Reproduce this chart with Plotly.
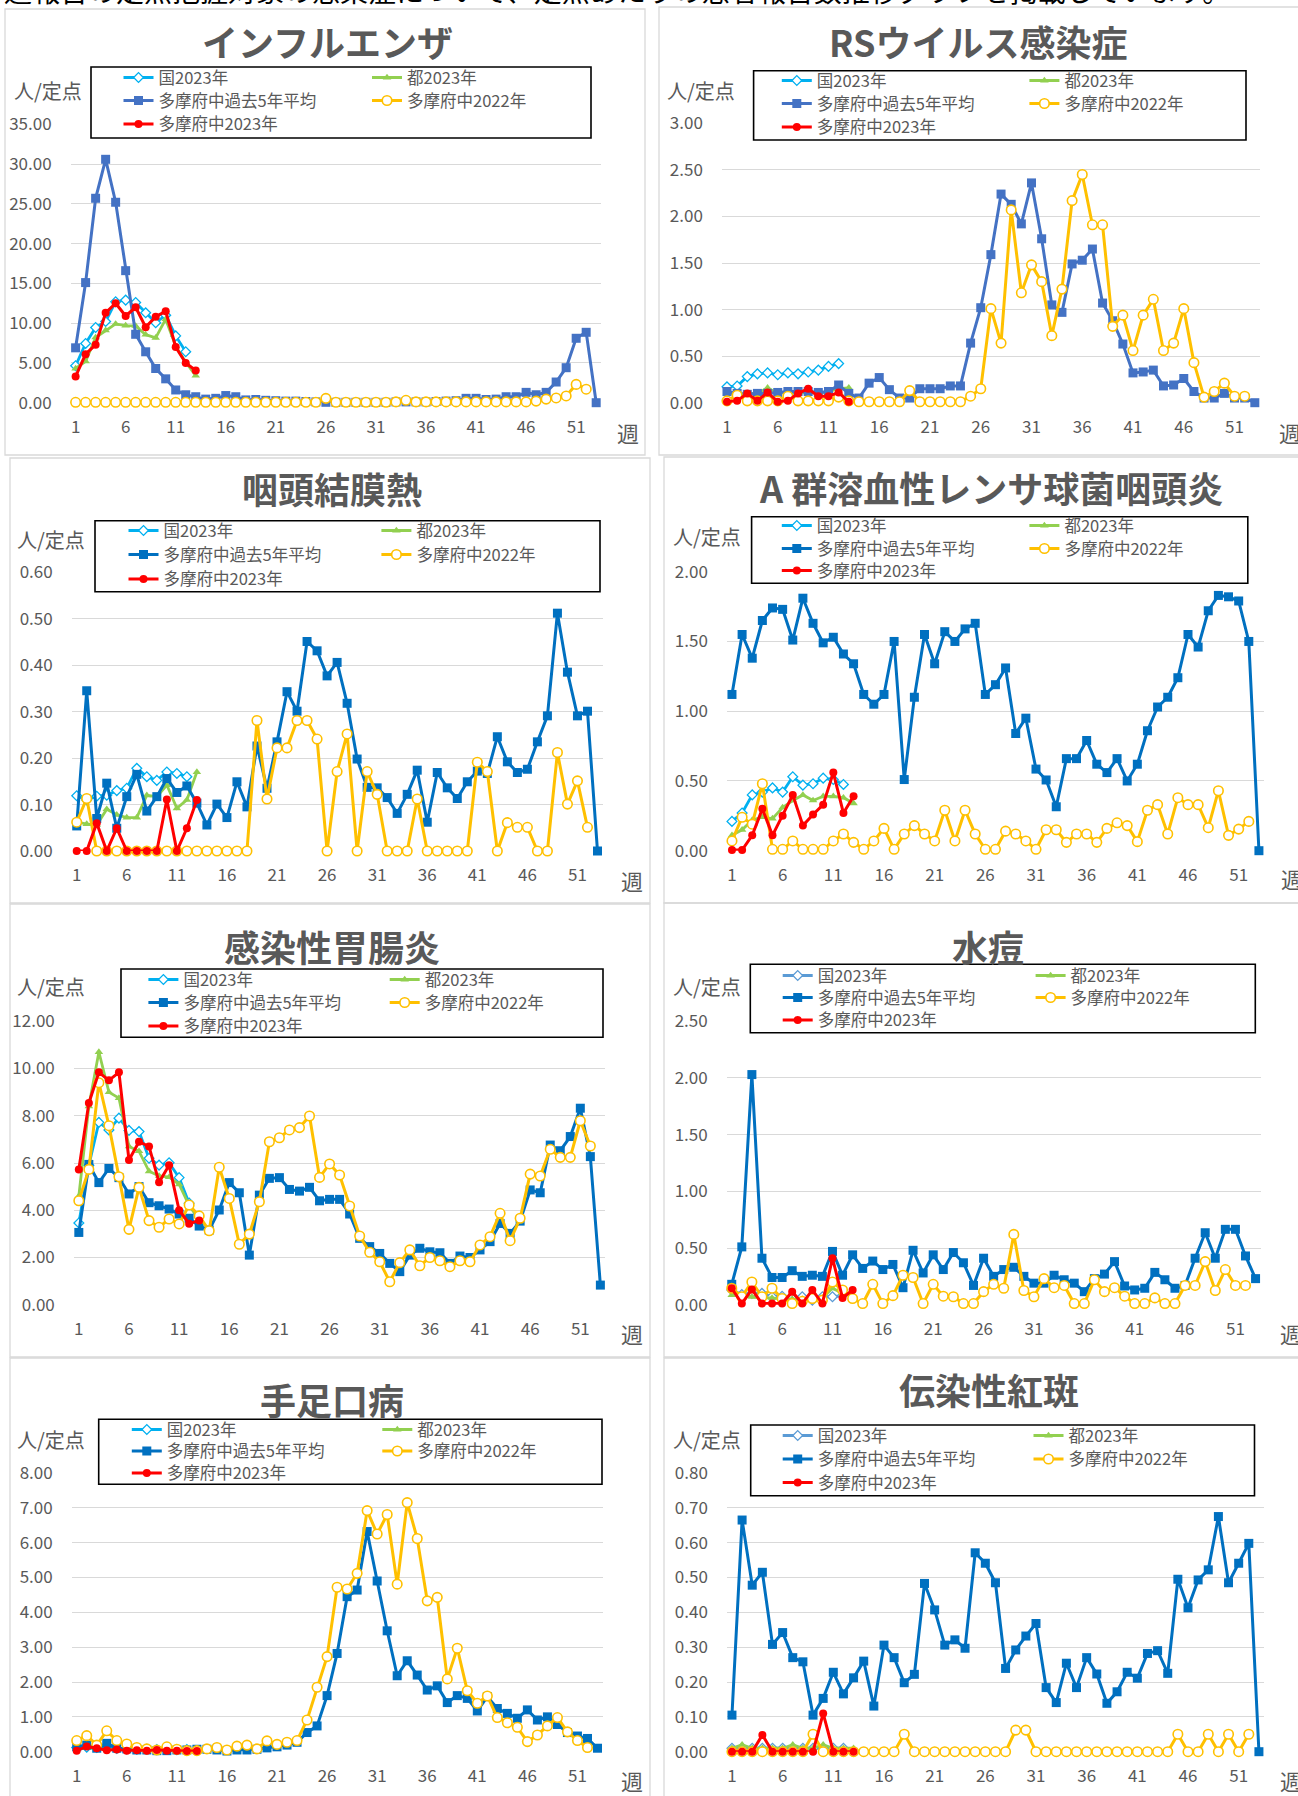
import plotly.graph_objects as go

# ------------------------------------------------------------------ data
weeks = list(range(1, 54))
week_ticks = [1, 6, 11, 16, 21, 26, 31, 36, 41, 46, 51]
series_names = ["国2023年", "都2023年", "多摩府中過去5年平均", "多摩府中2022年", "多摩府中2023年"]
page_note = "週報告の定点把握対象の感染症について、定点あたりの患者報告数推移グラフを掲載しています。"

# インフルエンザ
flu_kuni = [4.65, 7.45, 9.45, 10.2, 12.7, 12.9, 12.6, 11.3, 10.05, 11.0, 8.4, 6.4]
flu_to = [4.3, 5.2, 8.2, 9.1, 9.9, 9.7, 9.65, 8.55, 8.15, 10.5, 7.1, 5.1, 3.4]
flu_avg = [6.9, 15.1, 25.7, 30.6, 25.2, 16.6, 8.6, 6.4, 4.3, 3.0, 1.6, 1.0, 0.75, 0.45, 0.55,
           0.9, 0.75, 0.35, 0.4, 0.3, 0.25, 0.2, 0.2, 0.15, 0.1, 0.05, 0.05, 0.05, 0.05, 0.05,
           0.05, 0.05, 0.1, 0.1, 0.1, 0.1, 0.15, 0.2, 0.25, 0.55, 0.55, 0.4, 0.45, 0.75, 0.75,
           1.3, 1.0, 1.3, 2.6, 4.4, 8.1, 8.85, 0.0]
flu_2022 = [0.05, 0.05, 0.05, 0.05, 0.05, 0.05, 0.05, 0.05, 0.05, 0.05, 0.05, 0.05, 0.05,
            0.05, 0.05, 0.05, 0.05, 0.05, 0.05, 0.05, 0.05, 0.05, 0.05, 0.05, 0.05, 0.55,
            0.05, 0.05, 0.05, 0.05, 0.05, 0.05, 0.1, 0.3, 0.1, 0.1, 0.1, 0.1, 0.1, 0.1,
            0.1, 0.1, 0.1, 0.1, 0.1, 0.1, 0.2, 0.45, 0.6, 0.85, 2.3, 1.7]
flu_2023 = [3.3, 6.1, 7.3, 11.3, 12.5, 10.9, 12.0, 9.5, 10.8, 11.5, 7.0, 5.0, 4.05]

# RSウイルス感染症
rs_kuni = [0.17, 0.18, 0.28, 0.31, 0.32, 0.30, 0.32, 0.31, 0.33, 0.35, 0.39, 0.42]
rs_to = [0.10, 0.09, 0.10, 0.10, 0.16, 0.10, 0.11, 0.10, 0.11, 0.10, 0.12, 0.15, 0.16]
rs_avg = [0.12, 0.10, 0.09, 0.10, 0.10, 0.11, 0.12, 0.12, 0.12, 0.11, 0.12, 0.19, 0.10, 0.05,
          0.21, 0.27, 0.14, 0.05, 0.05, 0.15, 0.15, 0.15, 0.18, 0.18, 0.64, 1.02, 1.59, 2.24,
          2.13, 1.92, 2.36, 1.76, 1.05, 0.97, 1.49, 1.53, 1.65, 1.07, 0.88, 0.63, 0.32, 0.33,
          0.35, 0.18, 0.19, 0.26, 0.12, 0.05, 0.05, 0.10, 0.05, 0.05, 0.0]
rs_2022 = [0.02, 0.08, 0.02, 0.02, 0.02, 0.02, 0.07, 0.02, 0.02, 0.02, 0.02, 0.06, 0.02, 0.01,
           0.01, 0.01, 0.01, 0.01, 0.13, 0.01, 0.01, 0.01, 0.01, 0.01, 0.07, 0.15, 1.01, 0.64,
           2.07, 1.18, 1.48, 1.30, 0.72, 1.22, 2.17, 2.45, 1.91, 1.91, 0.82, 0.94, 0.56, 0.94,
           1.11, 0.56, 0.64, 1.01, 0.43, 0.06, 0.12, 0.21, 0.07, 0.07]
rs_2023 = [0.01, 0.02, 0.10, 0.02, 0.11, 0.01, 0.02, 0.10, 0.15, 0.07, 0.07, 0.11, 0.01]

# 咽頭結膜熱
pcf_kuni = [0.119, 0.11, 0.118, 0.12, 0.13, 0.135, 0.178, 0.16, 0.152, 0.17, 0.167, 0.16]
pcf_to = [0.063, 0.058, 0.056, 0.09, 0.078, 0.072, 0.072, 0.12, 0.117, 0.142, 0.092, 0.11, 0.17]
pcf_avg = [0.054, 0.345, 0.07, 0.146, 0.049, 0.117, 0.165, 0.086, 0.117, 0.156, 0.126, 0.14,
           0.103, 0.056, 0.101, 0.072, 0.149, 0.095, 0.226, 0.135, 0.235, 0.343, 0.301, 0.451,
           0.431, 0.377, 0.406, 0.318, 0.198, 0.137, 0.136, 0.115, 0.081, 0.122, 0.174, 0.062,
           0.169, 0.136, 0.113, 0.149, 0.172, 0.167, 0.246, 0.192, 0.169, 0.176, 0.235, 0.291,
           0.512, 0.385, 0.291, 0.301, 0.0]
pcf_2022 = [0.062, 0.113, 0.0, 0.0, 0.0, 0.0, 0.0, 0.0, 0.0, 0.0, 0.0, 0.0, 0.0, 0.0, 0.0, 0.0,
            0.0, 0.0, 0.281, 0.112, 0.222, 0.222, 0.281, 0.281, 0.241, 0.0, 0.171, 0.252, 0.0,
            0.171, 0.122, 0.0, 0.0, 0.0, 0.112, 0.0, 0.0, 0.0, 0.0, 0.0, 0.191, 0.171, 0.0,
            0.061, 0.051, 0.051, 0.0, 0.0, 0.212, 0.101, 0.151, 0.051]
pcf_2023 = [0.0, 0.0, 0.06, 0.0, 0.049, 0.0, 0.0, 0.0, 0.0, 0.111, 0.0, 0.049, 0.11]

# A群溶血性レンサ球菌咽頭炎
gas_kuni = [0.21, 0.27, 0.40, 0.42, 0.45, 0.42, 0.53, 0.47, 0.48, 0.52, 0.51, 0.475]
gas_to = [0.11, 0.15, 0.22, 0.24, 0.23, 0.31, 0.36, 0.40, 0.36, 0.39, 0.39, 0.38, 0.34]
gas_avg = [1.12, 1.55, 1.38, 1.65, 1.74, 1.73, 1.51, 1.81, 1.63, 1.49, 1.53, 1.41, 1.34, 1.12,
           1.05, 1.12, 1.50, 0.51, 1.10, 1.55, 1.34, 1.57, 1.50, 1.59, 1.63, 1.12, 1.19, 1.31,
           0.84, 0.95, 0.585, 0.507, 0.315, 0.66, 0.66, 0.79, 0.62, 0.56, 0.66, 0.50, 0.62,
           0.86, 1.03, 1.10, 1.24, 1.55, 1.46, 1.72, 1.83, 1.82, 1.79, 1.50, 0.0]
gas_2022 = [0.07, 0.24, 0.19, 0.48, 0.01, 0.01, 0.07, 0.01, 0.01, 0.01, 0.07, 0.12, 0.06, 0.01,
            0.07, 0.16, 0.01, 0.12, 0.18, 0.12, 0.07, 0.29, 0.07, 0.29, 0.12, 0.01, 0.01, 0.14,
            0.12, 0.07, 0.01, 0.15, 0.15, 0.06, 0.12, 0.12, 0.06, 0.16, 0.20, 0.18, 0.065, 0.29,
            0.33, 0.12, 0.38, 0.33, 0.33, 0.165, 0.43, 0.11, 0.155, 0.21]
gas_2023 = [0.005, 0.005, 0.11, 0.30, 0.11, 0.25, 0.40, 0.18, 0.26, 0.33, 0.56, 0.27, 0.39]

# 感染性胃腸炎
ge_kuni = [3.46, 5.9, 7.72, 7.40, 7.9, 7.38, 7.33, 6.2, 5.91, 6.01, 5.38, 4.3]
ge_to = [4.6, 8.4, 10.7, 9.0, 8.75, 6.7, 6.5, 5.65, 5.45, 5.4, 5.1, 4.2, 3.6]
ge_avg = [3.06, 5.94, 5.17, 5.77, 5.38, 4.69, 5.0, 4.32, 4.19, 4.05, 3.84, 3.66, 3.33, 3.16,
          4.01, 5.17, 4.74, 2.10, 4.64, 5.35, 5.38, 4.88, 4.81, 4.97, 4.40, 4.46, 4.46, 3.84,
          2.81, 2.46, 2.17, 1.75, 1.40, 2.10, 2.39, 2.24, 2.20, 1.75, 2.06, 2.00, 2.32, 2.67,
          3.44, 3.02, 3.54, 4.86, 4.74, 6.76, 6.52, 7.12, 8.32, 6.27, 0.83]
ge_2022 = [4.40, 5.73, 9.40, 7.58, 5.42, 3.19, 4.97, 3.56, 3.28, 3.63, 3.42, 4.22, 3.76, 3.13,
           5.82, 4.50, 2.56, 2.99, 4.36, 6.90, 7.07, 7.40, 7.50, 7.99, 5.39, 5.96, 5.49, 4.18,
           2.91, 2.22, 1.82, 0.97, 1.78, 2.32, 1.65, 2.00, 1.86, 1.61, 1.86, 1.82, 2.53, 2.88,
           3.87, 2.71, 3.66, 5.53, 5.45, 6.58, 6.24, 6.24, 7.79, 6.72]
ge_2023 = [5.73, 8.54, 9.84, 9.5, 9.84, 6.13, 6.9, 6.7, 5.18, 5.91, 4.0, 3.43, 3.57]

# 水痘
vzv_kuni = [0.13, 0.09, 0.10, 0.10, 0.07, 0.075, 0.055, 0.07, 0.04, 0.07, 0.07, 0.08]
vzv_to = [0.085, 0.08, 0.07, 0.06, 0.06, 0.05, 0.05, 0.05, 0.04, 0.06, 0.145, 0.10, 0.09]
vzv_avg = [0.18, 0.51, 2.03, 0.41, 0.24, 0.24, 0.30, 0.25, 0.26, 0.25, 0.47, 0.26, 0.44, 0.32,
           0.385, 0.31, 0.355, 0.15, 0.48, 0.28, 0.44, 0.31, 0.46, 0.37, 0.17, 0.41, 0.25, 0.31,
           0.33, 0.25, 0.19, 0.19, 0.26, 0.22, 0.19, 0.115, 0.23, 0.27, 0.38, 0.165, 0.13,
           0.145, 0.285, 0.22, 0.145, 0.17, 0.41, 0.635, 0.41, 0.665, 0.665, 0.43, 0.23]
vzv_2022 = [0.145, 0.07, 0.20, 0.07, 0.145, 0.055, 0.01, 0.03, 0.055, 0.04, 0.20, 0.13, 0.055,
            0.01, 0.18, 0.01, 0.08, 0.26, 0.24, 0.01, 0.18, 0.075, 0.07, 0.01, 0.01, 0.115,
            0.18, 0.145, 0.62, 0.125, 0.07, 0.23, 0.15, 0.17, 0.01, 0.01, 0.22, 0.115, 0.15,
            0.075, 0.01, 0.01, 0.06, 0.01, 0.01, 0.17, 0.17, 0.38, 0.125, 0.31, 0.17, 0.17]
vzv_2023 = [0.145, 0.01, 0.135, 0.01, 0.01, 0.01, 0.115, 0.01, 0.13, 0.01, 0.41, 0.06, 0.13]

# 手足口病
hf_kuni = [0.12, 0.13, 0.12, 0.10, 0.09, 0.08, 0.07, 0.07, 0.06, 0.07, 0.06, 0.06]
hf_to = [0.08, 0.10, 0.09, 0.07, 0.06, 0.05, 0.04, 0.04, 0.04, 0.05, 0.04, 0.04, 0.05]
hf_avg = [0.14, 0.19, 0.10, 0.24, 0.10, 0.08, 0.05, 0.05, 0.03, 0.03, 0.05, 0.05, 0.07, 0.07,
          0.05, 0.02, 0.05, 0.05, 0.07, 0.11, 0.14, 0.19, 0.27, 0.55, 0.74, 1.61, 2.82, 4.45,
          4.64, 6.32, 4.90, 3.47, 2.18, 2.61, 2.20, 1.77, 1.89, 1.41, 1.61, 1.53, 1.17, 1.58,
          1.24, 1.10, 0.96, 1.20, 0.91, 1.00, 0.78, 0.55, 0.45, 0.38, 0.10]
hf_2022 = [0.32, 0.46, 0.19, 0.60, 0.32, 0.22, 0.12, 0.08, 0.05, 0.14, 0.07, 0.03, 0.03, 0.08,
           0.12, 0.05, 0.16, 0.19, 0.08, 0.31, 0.21, 0.27, 0.32, 0.91, 1.85, 2.73, 4.72, 4.67,
           5.12, 6.92, 6.25, 6.81, 4.81, 7.15, 6.12, 4.33, 4.43, 2.09, 2.97, 1.75, 1.39, 1.60,
           0.98, 0.83, 0.70, 0.29, 0.48, 0.74, 0.98, 0.57, 0.32, 0.12]
hf_2023 = [0.03, 0.15, 0.10, 0.04, 0.06, 0.03, 0.04, 0.03, 0.05, 0.03, 0.03, 0.02, 0.02]

# 伝染性紅斑
ei_kuni = [0.01, 0.01, 0.01, 0.01, 0.01, 0.01, 0.01, 0.01, 0.01, 0.01, 0.01, 0.01]
ei_to = [0.01, 0.02, 0.01, 0.01, 0.01, 0.01, 0.02, 0.01, 0.01, 0.02, 0.01, 0.01, 0.01]
ei_avg = [0.105, 0.665, 0.478, 0.515, 0.308, 0.342, 0.270, 0.258, 0.105, 0.153, 0.228, 0.166,
          0.212, 0.260, 0.131, 0.306, 0.270, 0.198, 0.222, 0.483, 0.407, 0.306, 0.321, 0.297,
          0.571, 0.541, 0.485, 0.239, 0.292, 0.332, 0.368, 0.184, 0.141, 0.254, 0.184, 0.270,
          0.223, 0.139, 0.172, 0.228, 0.211, 0.282, 0.290, 0.225, 0.495, 0.413, 0.493, 0.522,
          0.675, 0.485, 0.541, 0.598, 0.0]
ei_2022 = [0.0, 0.0, 0.0, 0.0, 0.0, 0.0, 0.0, 0.0, 0.05, 0.0, 0.0, 0.0, 0.0, 0.0, 0.0, 0.0,
           0.0, 0.05, 0.0, 0.0, 0.0, 0.0, 0.0, 0.0, 0.0, 0.0, 0.0, 0.0, 0.062, 0.062, 0.0, 0.0,
           0.0, 0.0, 0.0, 0.0, 0.0, 0.0, 0.0, 0.0, 0.0, 0.0, 0.0, 0.0, 0.05, 0.0, 0.0, 0.05,
           0.0, 0.05, 0.0, 0.05]
ei_2023 = [0.0, 0.0, 0.0, 0.048, 0.0, 0.0, 0.0, 0.0, 0.0, 0.11, 0.0, 0.0, 0.0]

# ------------------------------------------------------------------ styling / layout
W, H = 1298, 1796
FONT = "Noto Sans CJK JP"
GRAY = "#595959"
C_KUNI_A = "#00B0F0"
C_KUNI_B = "#5B9BD5"
C_TO = "#92D050"
C_AVG_A = "#4472C4"
C_AVG_B = "#0070C0"
C_2022 = "#FFC000"
C_2023 = "#FF0000"
LEG_FS = 16.5

panels = [
    dict(title="インフルエンザ", data=(flu_kuni, flu_to, flu_avg, flu_2022, flu_2023),
         ymax=35, dtick=5, kc=C_KUNI_A, ac=C_AVG_A,
         plot=(70.6, 601.2, 124.3, 402.7), tpos=(327, 41), upos=(47.5, 90), wpos=(628, 432),
         frame=(5, 9, 645, 455), box=(91, 67, 591, 138), lx=(123.5, 372), ly=(77.5, 100.5, 124)),
    dict(title="RSウイルス感染症", data=(rs_kuni, rs_to, rs_avg, rs_2022, rs_2023),
         ymax=3, dtick=0.5, kc=C_KUNI_A, ac=C_AVG_A,
         plot=(721.9, 1259.9, 123.3, 402.7), tpos=(977.5, 41), upos=(700.5, 91), wpos=(1290, 432),
         frame=(659, 7, 1302, 455), box=(753.6, 70.7, 1246, 140), lx=(781.8, 1029.4), ly=(80.5, 103.5, 127)),
    dict(title="咽頭結膜熱", data=(pcf_kuni, pcf_to, pcf_avg, pcf_2022, pcf_2023),
         ymax=0.6, dtick=0.1, kc=C_KUNI_A, ac=C_AVG_B,
         plot=(71.7, 602.5, 572.3, 851.0), tpos=(331.7, 488), upos=(51.5, 539), wpos=(632, 880),
         frame=(10, 458, 650, 903), box=(95, 520.7, 600, 591.7), lx=(128.5, 381.4), ly=(530.5, 554.5, 579)),
    dict(title="A 群溶血性レンサ球菌咽頭炎", data=(gas_kuni, gas_to, gas_avg, gas_2022, gas_2023),
         ymax=2, dtick=0.5, kc=C_KUNI_A, ac=C_AVG_B,
         plot=(726.9, 1264.0, 571.7, 850.7), tpos=(990.8, 487), upos=(706.8, 536.7), wpos=(1292, 878),
         frame=(664, 457, 1302, 903), box=(751.6, 516.7, 1247.8, 583.3), lx=(781.8, 1029.4), ly=(525.5, 548.5, 570.5)),
    dict(title="感染性胃腸炎", data=(ge_kuni, ge_to, ge_avg, ge_2022, ge_2023),
         ymax=12, dtick=2, kc=C_KUNI_A, ac=C_AVG_B,
         plot=(73.8, 605.4, 1021.3, 1304.7), tpos=(331.7, 945.5), upos=(51.5, 986.7), wpos=(632, 1333),
         frame=(10, 904, 650, 1357), box=(121, 969, 603, 1037.3), lx=(148.4, 389.7), ly=(979.5, 1002.5, 1026)),
    dict(title="水痘", data=(vzv_kuni, vzv_to, vzv_avg, vzv_2022, vzv_2023),
         ymax=2.5, dtick=0.5, kc=C_KUNI_B, ac=C_AVG_B,
         plot=(726.7, 1260.6, 1021.3, 1304.7), tpos=(988, 945.5), upos=(706.8, 986), wpos=(1291, 1333),
         frame=(664, 903, 1302, 1357), box=(750.3, 964.3, 1255.3, 1032.7), lx=(782.7, 1035.6), ly=(975.5, 997.5, 1020)),
    dict(title="手足口病", data=(hf_kuni, hf_to, hf_avg, hf_2022, hf_2023),
         ymax=8, dtick=1, kc=C_KUNI_A, ac=C_AVG_B,
         plot=(71.7, 602.5, 1473.0, 1751.7), tpos=(331.7, 1399), upos=(51.5, 1439), wpos=(632, 1780),
         frame=(10, 1358, 650, 1800), box=(98.7, 1419.3, 602, 1484.3), lx=(131.8, 382.3), ly=(1429.5, 1451, 1473)),
    dict(title="伝染性紅斑", data=(ei_kuni, ei_to, ei_avg, ei_2022, ei_2023),
         ymax=0.8, dtick=0.1, kc=C_KUNI_B, ac=C_AVG_B,
         plot=(726.9, 1264.0, 1473.0, 1751.7), tpos=(989, 1389), upos=(706.8, 1439), wpos=(1291, 1780),
         frame=(664, 1358, 1302, 1800), box=(750.7, 1425, 1254.5, 1495.7), lx=(782.7, 1033.5), ly=(1435.5, 1459, 1482.5)),
]

# legend slot for each series: (column, row)
slots = [(0, 0), (1, 0), (0, 1), (1, 1), (0, 2)]


def px(x):
    return x / W


def py(y):
    return 1 - y / H


fig = go.Figure()
layout = dict(
    width=W, height=H, margin=dict(l=0, r=0, t=0, b=0, autoexpand=False),
    paper_bgcolor="white", plot_bgcolor="rgba(0,0,0,0)",
    font=dict(family=FONT, color=GRAY), showlegend=True,
    shapes=[], annotations=[],
)

item_h = 1.3 * LEG_FS + 3
for i, p in enumerate(panels):
    n = i + 1
    xa = "x" if n == 1 else f"x{n}"
    ya = "y" if n == 1 else f"y{n}"
    kuni, to, avg, y22, y23 = p["data"]
    legs = []
    for j in range(5):
        k = 5 * i + j + 1
        lid = "legend" if k == 1 else f"legend{k}"
        legs.append(lid)
        col, row = slots[j]
        layout[lid] = dict(x=px(p["lx"][col] - 5), y=py(p["ly"][row] - (5 + item_h / 2)),
                           xref="paper", yref="paper", xanchor="left", yanchor="top",
                           orientation="v", bgcolor="rgba(0,0,0,0)", borderwidth=0,
                           font=dict(family=FONT, size=LEG_FS, color=GRAY),
                           itemclick=False, itemdoubleclick=False)

    common = dict(xaxis=xa, yaxis=ya, mode="lines+markers", cliponaxis=False, hoverinfo="skip")
    fig.add_trace(go.Scatter(x=weeks[:len(kuni)], y=kuni, name=series_names[0], legend=legs[0],
                             line=dict(color=p["kc"], width=2.8),
                             marker=dict(symbol="diamond", size=7.5, color="white",
                                         line=dict(color=p["kc"], width=1.3)), **common))
    fig.add_trace(go.Scatter(x=weeks[:len(to)], y=to, name=series_names[1], legend=legs[1],
                             line=dict(color=C_TO, width=2.8),
                             marker=dict(symbol="triangle-up", size=7.5, color=C_TO), **common))
    fig.add_trace(go.Scatter(x=weeks[:len(avg)], y=avg, name=series_names[2], legend=legs[2],
                             line=dict(color=p["ac"], width=3),
                             marker=dict(symbol="square", size=9, color=p["ac"]), **common))
    fig.add_trace(go.Scatter(x=weeks[:len(y22)], y=y22, name=series_names[3], legend=legs[3],
                             line=dict(color=C_2022, width=3),
                             marker=dict(symbol="circle", size=9.5, color="white",
                                         line=dict(color=C_2022, width=1.6)), **common))
    fig.add_trace(go.Scatter(x=weeks[:len(y23)], y=y23, name=series_names[4], legend=legs[4],
                             line=dict(color=C_2023, width=3),
                             marker=dict(symbol="circle", size=8, color=C_2023), **common))

    x0, x1, yt, yb = p["plot"]
    axfont = dict(family=FONT, size=17, color=GRAY)
    layout["xaxis" if n == 1 else f"xaxis{n}"] = dict(
        domain=[px(x0), px(x1)], anchor=ya, range=[0.5, 53.5],
        tickmode="array", tickvals=week_ticks, ticktext=[str(v) for v in week_ticks],
        showgrid=False, zeroline=False, showline=False, ticks="",
        tickfont=axfont, ticklabelstandoff=12, fixedrange=True, automargin=False)
    layout["yaxis" if n == 1 else f"yaxis{n}"] = dict(
        domain=[py(yb), py(yt)], anchor=xa, range=[0, p["ymax"]],
        tick0=0, dtick=p["dtick"], tickformat=".2f",
        showgrid=True, gridcolor="#D9D9D9", gridwidth=1.3,
        zeroline=False, showline=False, ticks="",
        tickfont=axfont, ticklabelstandoff=18, fixedrange=True, automargin=False)

    # frame and legend box
    fx0, fy0, fx1, fy1 = p["frame"]
    layout["shapes"].append(dict(type="rect", xref="paper", yref="paper",
                                 x0=px(fx0), x1=px(fx1), y0=py(fy1), y1=py(fy0),
                                 line=dict(color="#D9D9D9", width=1.3), layer="below"))
    bx0, by0, bx1, by1 = p["box"]
    layout["shapes"].append(dict(type="rect", xref="paper", yref="paper",
                                 x0=px(bx0), x1=px(bx1), y0=py(by1), y1=py(by0),
                                 line=dict(color="black", width=1.6), layer="above"))

    # texts
    tx, ty = p["tpos"]
    layout["annotations"].append(dict(text="<b>" + p["title"] + "</b>", x=px(tx), y=py(ty),
                                      xref="paper", yref="paper", xanchor="center", yanchor="middle",
                                      showarrow=False, font=dict(family=FONT, size=36, color=GRAY)))
    ux, uy = p["upos"]
    layout["annotations"].append(dict(text="人/定点", x=px(ux), y=py(uy),
                                      xref="paper", yref="paper", xanchor="center", yanchor="middle",
                                      showarrow=False, font=dict(family=FONT, size=20, color=GRAY)))
    wx, wy = p["wpos"]
    layout["annotations"].append(dict(text="週", x=px(wx), y=py(wy),
                                      xref="paper", yref="paper", xanchor="center", yanchor="middle",
                                      showarrow=False, font=dict(family=FONT, size=22, color=GRAY)))

# page sentence above the charts (only its lower edge is visible, as in the source)
layout["annotations"].append(dict(text=page_note, x=px(2), y=py(-10.5), xref="paper", yref="paper",
                                  xanchor="left", yanchor="middle", showarrow=False,
                                  font=dict(family=FONT, size=28, color="black")))

fig.update_layout(**layout)

fix_page = (
    "document.body.style.margin='0';"
    "document.body.style.overflow='hidden';"
    "var gds=document.getElementsByClassName('plotly-graph-div');"
    "for(var k=0;k<gds.length;k++){gds[k].style.position='absolute';"
    "gds[k].style.top='0px';gds[k].style.left='0px';}"
)
fig.write_html("out.html", config={"displayModeBar": False}, post_script=fix_page)
